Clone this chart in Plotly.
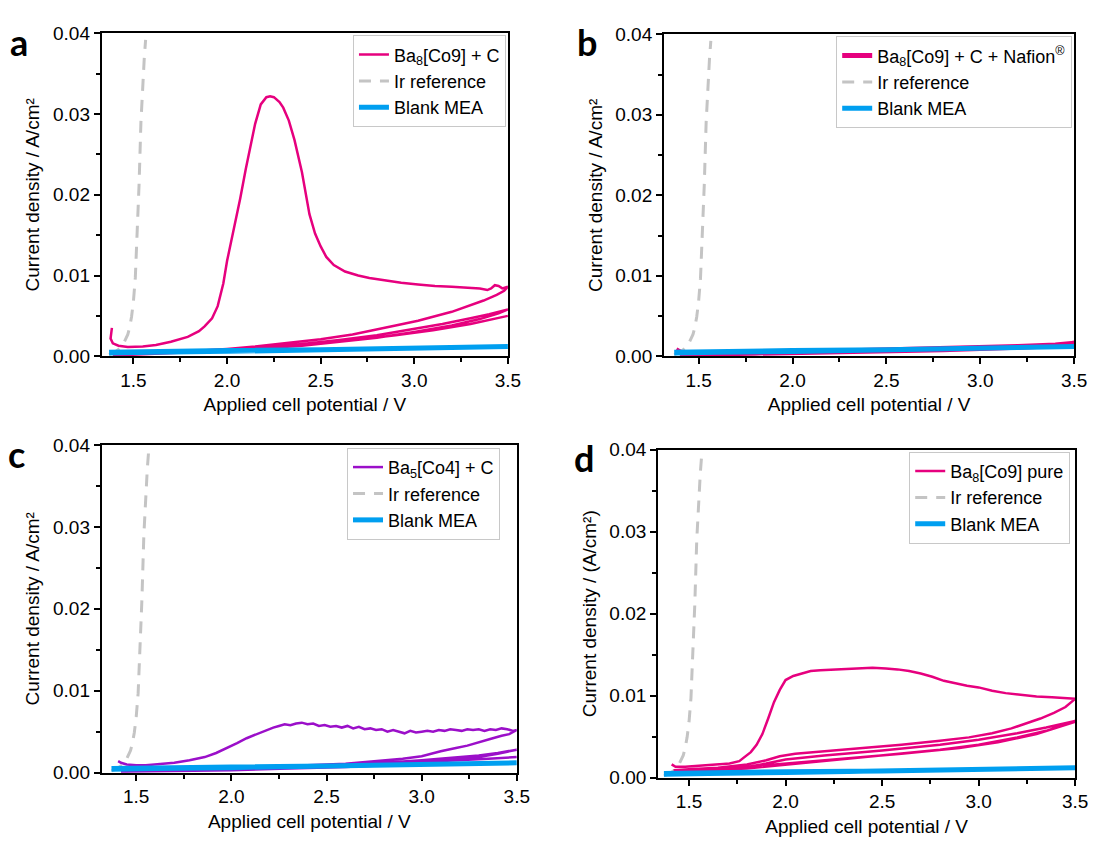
import plotly.graph_objects as go

# ---------------- data ----------------
IR_V = [1.37, 1.40, 1.43, 1.45, 1.47, 1.48, 1.49, 1.50, 1.51, 1.52, 1.53, 1.54, 1.55, 1.558, 1.565]
IR_J = [0.0002, 0.0005, 0.0010, 0.0017, 0.0027, 0.0036, 0.0049, 0.0068, 0.0097, 0.0150, 0.0212, 0.0290, 0.0340, 0.0370, 0.0392]

BLANK_V = [1.37, 1.60, 2.00, 2.50, 3.00, 3.50, 3.00, 2.50, 2.00, 1.60, 1.37]
BLANK_J = [0.0005, 0.0006, 0.0007, 0.0008, 0.0010, 0.0012, 0.0009, 0.0007, 0.0006, 0.0005, 0.0004]

# a: Ba8[Co9] + C
A_V = [1.385, 1.378, 1.39, 1.42, 1.47, 1.55, 1.62, 1.70, 1.79, 1.85,
       1.88, 1.92, 1.95, 1.98, 2.00, 2.04, 2.07, 2.10, 2.12, 2.15,
       2.18, 2.21, 2.23, 2.25, 2.28, 2.30, 2.33, 2.36, 2.40, 2.44,
       2.47, 2.50, 2.53, 2.57, 2.63, 2.70, 2.76, 2.85, 2.93, 3.02,
       3.11, 3.20, 3.28, 3.35, 3.39, 3.41, 3.43, 3.45, 3.47, 3.50,
       3.48, 3.44, 3.37, 3.28, 3.20, 3.10, 3.02, 2.90, 2.80, 2.67,
       2.50, 2.32, 2.15, 2.00, 1.80, 1.60, 1.45, 1.39,
       1.40, 1.60, 1.80, 2.00, 2.20, 2.40, 2.60, 2.80, 3.00, 3.15, 3.30, 3.40, 3.50,
       3.45, 3.35, 3.20, 3.00, 2.80, 2.60, 2.40, 2.20, 2.00, 1.80, 1.60, 1.40,
       1.40, 1.70, 2.00, 2.30, 2.60, 2.90, 3.10, 3.30, 3.50]
A_J = [0.0035, 0.0022, 0.0016, 0.0013, 0.00115, 0.0012, 0.0014, 0.0018, 0.0024, 0.0031,
       0.0037, 0.0047, 0.0062, 0.0090, 0.0118, 0.0160, 0.0195, 0.0232, 0.0256, 0.0288,
       0.0312, 0.0321, 0.0322, 0.0321, 0.0315, 0.0308, 0.0292, 0.0268, 0.0228, 0.0176,
       0.0152, 0.0136, 0.0123, 0.0113, 0.0105, 0.0100, 0.0097, 0.0094, 0.0091, 0.0089,
       0.0087, 0.0086, 0.0085, 0.0084, 0.0082, 0.0084, 0.0088, 0.0087, 0.0084, 0.0086,
       0.0081, 0.0076, 0.0069, 0.0062, 0.0055, 0.0049, 0.0044, 0.0038, 0.0033, 0.0027,
       0.0021, 0.0016, 0.0012, 0.0009, 0.0006, 0.0004, 0.0002, 0.0001,
       0.0001, 0.0003, 0.0005, 0.0008, 0.0011, 0.0015, 0.0020, 0.0026, 0.0034, 0.0040, 0.0047, 0.0052, 0.0058,
       0.0053, 0.0046, 0.0038, 0.0030, 0.0023, 0.0018, 0.0013, 0.0010, 0.0007, 0.0005, 0.0003, 0.0001,
       0.0001, 0.0004, 0.0007, 0.0012, 0.0018, 0.0026, 0.0032, 0.0040, 0.0050]

# b: Ba8[Co9] + C + Nafion
B_V = [1.38, 1.39, 1.41, 1.45, 1.60, 1.80, 2.00, 2.20, 2.40, 2.60, 2.80, 3.00, 3.20, 3.40, 3.50,
       3.40, 3.20, 3.00, 2.80, 2.60, 2.40, 2.20, 2.00, 1.80, 1.60, 1.40,
       1.40, 1.80, 2.20, 2.60, 3.00, 3.30, 3.50]
B_J = [0.0008, 0.0006, 0.0004, 0.0003, 0.0003, 0.0004, 0.0005, 0.0006, 0.0007, 0.0008, 0.0009, 0.0011, 0.0012, 0.0014, 0.0016,
       0.0013, 0.0011, 0.0009, 0.0008, 0.0007, 0.0006, 0.0005, 0.0004, 0.0003, 0.0002, 0.0002,
       0.0002, 0.0004, 0.0006, 0.0008, 0.0010, 0.0012, 0.0015]

# c: Ba5[Co4] + C
C_V = [1.405, 1.42, 1.45, 1.50, 1.55, 1.62, 1.70, 1.78, 1.86, 1.92,
       1.98, 2.03, 2.08, 2.13, 2.18, 2.22, 2.25, 2.28, 2.31, 2.34,
       2.37, 2.40, 2.43, 2.46, 2.49, 2.52, 2.55, 2.58, 2.61, 2.64,
       2.67, 2.70, 2.73, 2.76, 2.79, 2.82, 2.85, 2.88, 2.91, 2.94,
       2.97, 3.00, 3.03, 3.06, 3.09, 3.12, 3.15, 3.18, 3.21, 3.24,
       3.27, 3.30, 3.33, 3.36, 3.39, 3.42, 3.45, 3.48, 3.50,
       3.46, 3.42, 3.36, 3.30, 3.24, 3.18, 3.10, 3.00, 2.90, 2.75, 2.60, 2.40, 2.20, 2.00, 1.80, 1.60, 1.42,
       1.42, 1.70, 2.00, 2.30, 2.60, 2.80, 3.00, 3.15, 3.30, 3.40, 3.50,
       3.40, 3.30, 3.15, 3.00, 2.80, 2.60, 2.30, 2.00, 1.70, 1.42,
       1.42, 1.80, 2.20, 2.60, 3.00, 3.20, 3.35, 3.50]
C_J = [0.0014, 0.0012, 0.0010, 0.0009, 0.0009, 0.0010, 0.0012, 0.0015, 0.0019, 0.0024,
       0.0030, 0.0036, 0.0042, 0.0047, 0.0052, 0.0055, 0.0057, 0.0059, 0.0058, 0.0060,
       0.0061, 0.0059, 0.0060, 0.0057, 0.0058, 0.0056, 0.0057, 0.0055, 0.0057, 0.0054,
       0.0056, 0.0053, 0.0054, 0.0052, 0.0053, 0.0050, 0.0052, 0.0050, 0.0048, 0.0051,
       0.0049, 0.0050, 0.0051, 0.0050, 0.0052, 0.0051, 0.0053, 0.0052, 0.0051, 0.0053,
       0.0052, 0.0053, 0.0051, 0.0053, 0.0052, 0.0054, 0.0053, 0.0051, 0.0052,
       0.0047, 0.0045, 0.0041, 0.0037, 0.0033, 0.0030, 0.0026, 0.0020, 0.0017, 0.0014, 0.0011, 0.0009, 0.0007, 0.0005, 0.0003, 0.0002, 0.0001,
       0.0001, 0.0003, 0.0005, 0.0007, 0.0010, 0.0012, 0.0015, 0.0018, 0.0021, 0.0024, 0.0028,
       0.0023, 0.0019, 0.0015, 0.0012, 0.0009, 0.0007, 0.0005, 0.0003, 0.0002, 0.0001,
       0.0001, 0.0003, 0.0006, 0.0009, 0.0013, 0.0015, 0.0017, 0.0019]

# d: Ba8[Co9] pure
D_V = [1.41, 1.43, 1.48, 1.55, 1.63, 1.71, 1.76, 1.79, 1.82, 1.85,
       1.88, 1.91, 1.94, 1.97, 2.00, 2.04, 2.08, 2.13, 2.18, 2.25,
       2.32, 2.39, 2.45, 2.52, 2.58, 2.64, 2.70, 2.76, 2.82, 2.88,
       2.94, 3.00, 3.07, 3.14, 3.22, 3.30, 3.38, 3.45, 3.50,
       3.45, 3.39, 3.32, 3.25, 3.17, 3.07, 2.95, 2.80, 2.60, 2.40, 2.20, 2.05, 1.97, 1.90, 1.80, 1.65, 1.50, 1.42,
       1.42, 1.60, 1.80, 1.90, 2.00, 2.20, 2.50, 2.80, 3.00, 3.20, 3.35, 3.50,
       3.35, 3.20, 3.00, 2.80, 2.50, 2.20, 2.00, 1.80, 1.60, 1.42,
       1.42, 1.70, 2.00, 2.30, 2.60, 2.90, 3.10, 3.30, 3.50]
D_J = [0.0016, 0.0013, 0.0013, 0.0014, 0.0015, 0.0017, 0.0020, 0.0025, 0.0031, 0.0040,
       0.0053, 0.0072, 0.0092, 0.0107, 0.0119, 0.0124, 0.0127, 0.0130, 0.0131, 0.0132,
       0.0133, 0.0134, 0.0134, 0.0133, 0.0132, 0.0130, 0.0127, 0.0123, 0.0118, 0.0115,
       0.0112, 0.0110, 0.0106, 0.0103, 0.0101, 0.0099, 0.0098, 0.0097, 0.0096,
       0.0086, 0.0079, 0.0072, 0.0066, 0.0060, 0.0054, 0.0049, 0.0045, 0.0040, 0.0036, 0.0032, 0.0029, 0.0026, 0.0021, 0.0016, 0.0012, 0.0010, 0.0009,
       0.0009, 0.0010, 0.0013, 0.0017, 0.0022, 0.0027, 0.0033, 0.0040, 0.0046, 0.0054, 0.0061, 0.0069,
       0.0057, 0.0049, 0.0040, 0.0034, 0.0027, 0.0020, 0.0016, 0.0011, 0.0009, 0.0008,
       0.0008, 0.0011, 0.0017, 0.0023, 0.0029, 0.0036, 0.0043, 0.0053, 0.0068]

X_TICKS = [1.5, 2.0, 2.5, 3.0, 3.5]
Y_TICKS = [0.00, 0.01, 0.02, 0.03, 0.04]

PINK = "#E6007E"
PURPLE = "#9B0FC9"
BLUE = "#009FF0"
GRAY = "#C4C4C4"
FONT = "Arial, Liberation Sans, sans-serif"

W, H = 1101, 848

panels = [
    dict(V=A_V, J=A_J, color=PINK, name="Ba<sub>8</sub>[Co9] + C",
         ytitle="Current density / A/cm²", box=(103, 514, 24, 355), xmin=1.331,
         leg=(512, 26), letter="a", lpos=(19, 33), mw=2.5),
    dict(V=B_V, J=B_J, color=PINK, name="Ba<sub>8</sub>[Co9] + C + Nafion<sup>®</sup>",
         ytitle="Current density / A/cm²", box=(672, 1087, 25, 355), xmin=1.316,
         leg=(1085, 27), letter="b", lpos=(594, 33), mw=5),
    dict(V=C_V, J=C_J, color=PURPLE, name="Ba<sub>5</sub>[Co4] + C",
         ytitle="Current density / A/cm²", box=(103, 523, 446, 782), xmin=1.319,
         leg=(506, 449), letter="c", lpos=(17, 455), mw=2.5),
    dict(V=D_V, J=D_J, color=PINK, name="Ba<sub>8</sub>[Co9] pure",
         ytitle="Current density / (A/cm²)", box=(666, 1088, 451, 787), xmin=1.340,
         leg=(1083, 453), letter="d", lpos=(591, 459), mw=2.5),
]

fig = go.Figure()
layout = dict(width=W, height=H, margin=dict(l=0, r=0, t=0, b=0),
              paper_bgcolor="white", plot_bgcolor="white",
              font=dict(family=FONT, size=19, color="black"),
              showlegend=True, annotations=[])

for i, p in enumerate(panels, start=1):
    xa = "x" if i == 1 else f"x{i}"
    ya = "y" if i == 1 else f"y{i}"
    lg = "legend" if i == 1 else f"legend{i}"
    l, r, t, b = p["box"]
    fig.add_trace(go.Scatter(x=IR_V, y=IR_J, mode="lines", name="Ir reference",
                             line=dict(color=GRAY, width=3, dash="12px,9px"),
                             xaxis=xa, yaxis=ya, legend=lg, legendrank=2))
    fig.add_trace(go.Scatter(x=p["V"], y=p["J"], mode="lines", name=p["name"],
                             line=dict(color=p["color"], width=p["mw"]),
                             xaxis=xa, yaxis=ya, legend=lg, legendrank=1))
    fig.add_trace(go.Scatter(x=BLANK_V, y=BLANK_J, mode="lines", name="Blank MEA",
                             line=dict(color=BLUE, width=5),
                             xaxis=xa, yaxis=ya, legend=lg, legendrank=3))
    axcommon = dict(showgrid=False, zeroline=False, showline=True, linecolor="black",
                    linewidth=2, mirror=True, ticks="outside", ticklen=6, tickwidth=2,
                    tickcolor="black", tickfont=dict(size=19, family=FONT))
    layout["xaxis" if i == 1 else f"xaxis{i}"] = dict(
        axcommon, domain=[l / W, r / W], range=[p["xmin"], 3.5],
        tickvals=X_TICKS, ticktext=[f"{v:.1f}" for v in X_TICKS],
        minor=dict(ticks="outside", ticklen=4, tickwidth=2, tickcolor="black", dtick=0.25, tick0=1.25),
        title=dict(text="Applied cell potential / V", font=dict(size=19), standoff=8),
        anchor=ya)
    layout["yaxis" if i == 1 else f"yaxis{i}"] = dict(
        axcommon, domain=[1 - b / H, 1 - t / H], range=[0, 0.04],
        tickvals=Y_TICKS, ticktext=[f"{v:.2f}" for v in Y_TICKS],
        minor=dict(ticks="outside", ticklen=4, tickwidth=2, tickcolor="black", dtick=0.005, tick0=0),
        title=dict(text=p["ytitle"], font=dict(size=19), standoff=8),
        anchor=xa)
    layout[lg] = dict(x=p["leg"][0] / W, y=1 - p["leg"][1] / H, xanchor="right", yanchor="top",
                      bgcolor="white", bordercolor="#C8C8C8", borderwidth=1,
                      font=dict(size=18, family=FONT), tracegroupgap=0,
                      traceorder="normal")
    layout["annotations"].append(dict(text=f"<b>{p['letter']}</b>", x=p["lpos"][0] / W,
                                      y=1 - p["lpos"][1] / H, xref="paper", yref="paper",
                                      showarrow=False, xanchor="center", yanchor="middle",
                                      font=dict(size=36, family="Lato, Open Sans, sans-serif", color="black")))

fig.update_layout(**layout)
fig.write_html("out.html")
